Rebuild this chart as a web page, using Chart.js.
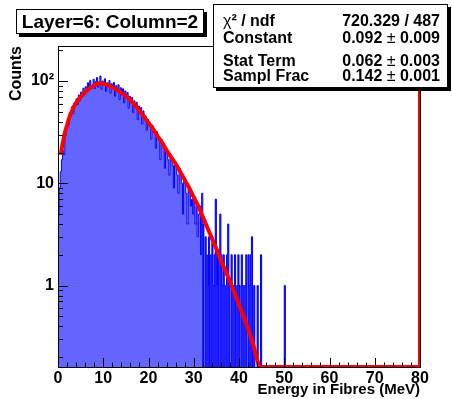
<!DOCTYPE html>
<html>
<head>
<meta charset="utf-8">
<script src="https://cdn.jsdelivr.net/npm/chart.js@4.4.0/dist/chart.umd.min.js"></script>
<style>
  body { margin:0; background:#fff; }
  #wrap { position:relative; width:452px; height:399px; font-family:"Liberation Sans", Arial, Helvetica, sans-serif; font-weight:bold; color:#000; }
  canvas { position:absolute; left:0; top:0; }
  .box { position:absolute; background:#fff; border:1px solid #000; box-shadow:3px 3px 0 #000; box-sizing:border-box; }
  .row { position:absolute; left:9px; right:7px; display:flex; justify-content:space-between; font-size:16px; line-height:16px; white-space:nowrap; }
  .pm { font-weight:normal; }
</style>
</head>
<body>
<div id="wrap">
  <canvas id="c" width="452" height="399"></canvas>

  <!-- title box -->
  <div class="box" style="left:16px;top:9px;width:188px;height:25px;font-size:19px;line-height:23px;text-align:center">Layer=6: Column=2</div>

  <!-- fit stats box -->
  <div class="box" style="left:213px;top:4px;width:235px;height:84px">
    <div class="row" style="top:8px"><span><span class="pm">χ</span>² / ndf</span><span>720.329 / 487</span></div>
    <div class="row" style="top:25px"><span>Constant</span><span>0.092 <span class="pm">±</span> 0.009</span></div>
    <div class="row" style="top:48px"><span>Stat Term</span><span>0.062 <span class="pm">±</span> 0.003</span></div>
    <div class="row" style="top:63px"><span>Sampl Frac</span><span>0.142 <span class="pm">±</span> 0.001</span></div>
  </div>
</div>

<script>
// histogram: bin width 0.25 MeV, low edges start at 0
const binWidth = 0.25;
const counts = [
  // 0 - 4.75
  5, 9, 13, 17, 21, 19, 29, 34, 40, 37, 49, 45, 56, 48, 61, 58, 67, 59, 73, 64,
  // 5 - 9.75
  78, 70, 85, 74, 88, 80, 96, 82, 101, 86, 91, 104, 84, 99, 108, 87, 97, 112, 83, 100,
  // 10 - 14.75
  92, 105, 79, 96, 88, 101, 76, 94, 85, 97, 71, 90, 83, 92, 66, 86, 78, 84, 61, 80,
  // 15 - 19.75
  73, 77, 54, 71, 66, 69, 49, 64, 59, 62, 42, 57, 52, 55, 38, 51, 46, 45, 33, 42,
  // 20 - 24.75
  40, 38, 27, 37, 34, 31, 22, 32, 29, 26, 17, 27, 24, 22, 14, 21, 21, 17, 12, 19,
  // 25 - 29.75
  17, 15, 9, 16, 15, 12, 8, 14, 12, 10, 5, 11, 10, 8, 4, 9, 8, 6, 7, 5,
  // 30 - 34.75
  7, 4, 6, 3, 5, 6, 2, 8, 4, 0, 3, 2, 1, 3, 0, 2, 3, 1, 2, 7,
  // 35 - 39.75
  1, 2, 0, 5, 2, 1, 2, 1, 1, 2, 4, 1, 0, 2, 1, 1, 2, 0, 1, 2,
  // 40 - 44.75
  1, 0, 2, 1, 1, 1, 2, 0, 2, 1, 2, 3, 0, 1, 0, 0, 1, 0, 0, 2,
  // 45 - 49.75
  0, 0, 0, 0, 0, 0, 0, 0, 0, 0, 0, 0, 0, 0, 0, 0, 0, 0, 0, 0,
  // 50
  1
];
// sparse tail (narrow bins merge into dark blue there)
const tailFrom = 32;

// fit curve (energy, counts)
const fitE = [0.6, 1, 1.5, 2, 2.5, 3, 3.5, 4, 5, 6, 7, 8, 9, 10, 11, 12, 13, 14, 15, 16, 17, 18, 19, 20,
              21, 22, 23, 24, 25, 26, 27, 28, 29, 30, 31, 32, 33, 34, 35, 36, 37, 38, 39, 40, 41, 42, 43, 44, 44.5, 80, 80];
const fitN = [19, 24, 31, 37, 44, 50, 56, 61, 70, 78, 85, 91, 95, 94, 91, 87, 82, 77, 71, 65, 58, 51, 45, 39,
              34, 29, 25, 21, 18, 15.5, 13, 10.8, 9, 7.3, 6, 4.7, 3.7, 2.9, 2.3, 1.75, 1.4, 1.1, 0.85, 0.65, 0.5, 0.38, 0.28, 0.19, 0.16, 0.16, 220];

const xTicks = [0, 10, 20, 30, 40, 50, 60, 70, 80];
const yTicks = [1, 10, 100];
const yTickLabels = ['1', '10', '10²'];
const xMin = 0, xMax = 80, yMin = 0.16, yMax = 220;

const FONT = '"Liberation Sans", Arial, Helvetica, sans-serif';
const floorVal = 1e-3; // empty bins drop below the frame

function stepPoints(keep) {
  const pts = [{x: 0, y: floorVal}];
  counts.forEach((c, i) => {
    const e = i * binWidth;
    pts.push({x: e, y: (c > 0 && keep(e)) ? c : floorVal});
  });
  pts.push({x: counts.length * binWidth, y: floorVal});
  pts.push({x: xMax, y: floorVal});
  return pts;
}
const mainPts = stepPoints(e => e < tailFrom);
const tailPts = stepPoints(e => e >= tailFrom);

const fitPts = fitE.map((e, i) => ({x: e, y: fitN[i]}));

// ROOT style frame + inward ticks
const rootAxes = {
  id: 'rootAxes',
  afterDatasetsDraw(chart) {
    const {ctx, chartArea: a, scales: {x, y}} = chart;
    ctx.save();
    ctx.strokeStyle = '#000';
    ctx.lineWidth = 1;
    ctx.beginPath();
    for (let v = xMin; v <= xMax; v += 2) {
      const px = Math.round(x.getPixelForValue(v)) + 0.5;
      const len = v % 10 === 0 ? 9 : 4.5;
      ctx.moveTo(px, a.bottom);
      ctx.lineTo(px, a.bottom - len);
    }
    [0.1, 1, 10, 100].forEach(d => {
      for (let m = 1; m < 10; m++) {
        const v = d * m;
        if (v < yMin || v > yMax) continue;
        const py = Math.round(y.getPixelForValue(v)) + 0.5;
        ctx.moveTo(a.left, py);
        ctx.lineTo(a.left + (m === 1 ? 10 : 5), py);
      }
    });
    ctx.stroke();
    ctx.strokeRect(a.left + 0.5, a.top + 0.5, a.right - a.left, a.bottom - a.top);
    ctx.restore();
  }
};

new Chart(document.getElementById('c'), {
  type: 'line',
  data: {
    datasets: [
      {
        label: 'fit',
        data: fitPts,
        borderColor: '#ff0000',
        borderWidth: 4,
        pointRadius: 0,
        tension: 0,
        fill: false,
        order: 0
      },
      {
        label: 'Energy in Fibres',
        data: mainPts,
        stepped: 'before',
        borderColor: '#0000ff',
        borderWidth: 1,
        backgroundColor: '#6464ff',
        fill: 'start',
        pointRadius: 0,
        order: 1
      },
      {
        label: 'tail',
        data: tailPts,
        stepped: 'before',
        borderColor: '#0000ff',
        borderWidth: 1,
        backgroundColor: '#1e1eff',
        fill: 'start',
        pointRadius: 0,
        order: 2
      }
    ]
  },
  options: {
    responsive: false,
    animation: false,
    events: [],
    layout: { padding: { top: 46, right: 32, left: 0, bottom: 0 } },
    plugins: { legend: { display: false }, tooltip: { enabled: false } },
    scales: {
      x: {
        type: 'linear', min: xMin, max: xMax,
        afterBuildTicks: s => { s.ticks = xTicks.map(v => ({value: v})); },
        afterFit: s => { s.height = 32; },
        grid: { display: false, drawTicks: false },
        border: { display: false },
        ticks: { color: '#000', padding: 2, maxRotation: 0, autoSkip: false,
                 font: { family: FONT, size: 16, weight: 'bold' } },
        title: { display: true, text: 'Energy in Fibres (MeV)', align: 'end', color: '#000',
                 padding: { top: 0, bottom: 0 }, font: { family: FONT, size: 15, weight: 'bold' } }
      },
      y: {
        type: 'logarithmic', min: yMin, max: yMax,
        afterBuildTicks: s => { s.ticks = yTicks.map(v => ({value: v})); },
        afterFit: s => { s.width = 58; },
        grid: { display: false, drawTicks: false },
        border: { display: false },
        ticks: { color: '#000', padding: 4, autoSkip: false,
                 callback: v => yTickLabels[yTicks.indexOf(v)],
                 font: { family: FONT, size: 16, weight: 'bold' } },
        title: { display: true, text: 'Counts', align: 'end', color: '#000',
                 padding: { top: 7, bottom: 0 }, font: { family: FONT, size: 16, weight: 'bold' } }
      }
    }
  },
  plugins: [rootAxes]
});
</script>
</body>
</html>
